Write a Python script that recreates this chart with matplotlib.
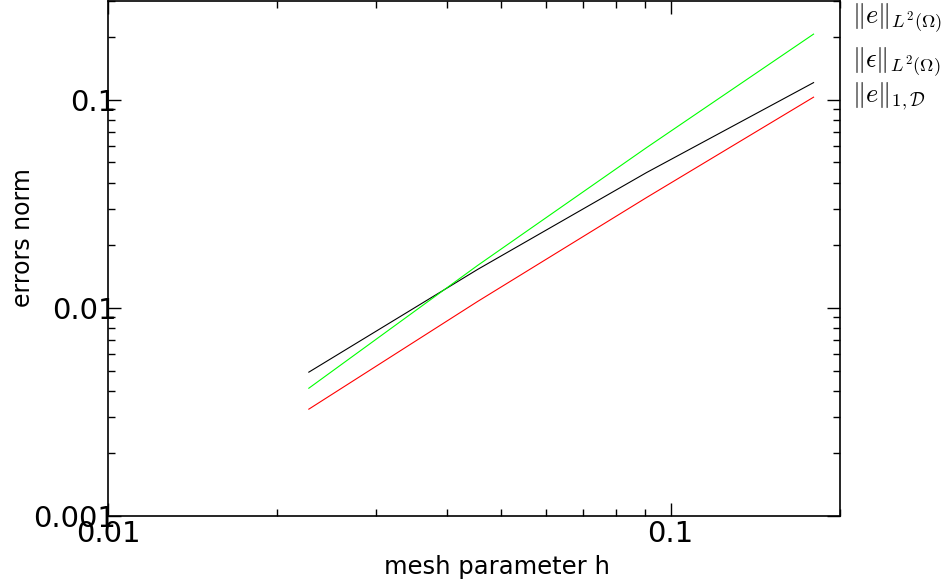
import numpy as np
import matplotlib
matplotlib.use("Agg")
import matplotlib.pyplot as plt
from matplotlib.ticker import NullFormatter

# mesh sizes and error norms
h = [0.02275, 0.0454, 0.0906, 0.1795]
err_eps = [0.00491, 0.01531, 0.0447, 0.121]    # black
err_L2 = [0.00411, 0.0160, 0.0589, 0.207]      # green
err_1D = [0.00326, 0.01074, 0.0339, 0.103]     # red

labels = [r"$\Vert e\Vert_{L^2(\Omega)}$",
          r"$\Vert \epsilon\Vert_{L^2(\Omega)}$",
          r"$\Vert e\Vert_{1,\mathcal{D}}$"]
label_y = [0.969, 0.893, 0.835]

xticks = [0.01, 0.1]
xticklabels = ["0.01", "0.1"]
yticks = [0.001, 0.01, 0.1]
yticklabels = ["0.001", "0.01", "0.1"]

plt.rcParams['mathtext.fontset'] = 'cm'
plt.rcParams['font.family'] = 'DejaVu Sans'

fig = plt.figure(figsize=(9.47, 5.81), dpi=100)
ax = fig.add_axes([0.114, 0.112, 0.773, 0.887])

ax.plot(h, err_eps, color='black', lw=0.8)
ax.plot(h, err_L2, color='#00ff00', lw=0.8)
ax.plot(h, err_1D, color='#ff0000', lw=0.8)

ax.set_xscale('log')
ax.set_yscale('log')
ax.set_xlim(0.01, 0.2)
ax.set_ylim(0.001, 0.3)

ax.set_xticks(xticks)
ax.set_xticklabels(xticklabels)
ax.set_yticks(yticks)
ax.set_yticklabels(yticklabels)
ax.xaxis.set_minor_formatter(NullFormatter())
ax.yaxis.set_minor_formatter(NullFormatter())

ax.tick_params(which='both', direction='in', top=True, right=True, width=1)
ax.tick_params(which='major', length=9.5, labelsize=21)
ax.tick_params(axis='y', which='major', pad=-6)
ax.tick_params(axis='x', which='major', pad=3)
ax.tick_params(which='minor', length=5)
for s in ax.spines.values():
    s.set_linewidth(1.2)

ax.set_xlabel("mesh parameter h", fontsize=17.5)
ax.xaxis.set_label_coords(0.531, -0.075)
ax.set_ylabel("errors norm", fontsize=17)
ax.yaxis.set_label_coords(-0.10, 0.54)

for lab, yy in zip(labels, label_y):
    fig.text(0.900, yy, lab, fontsize=19, va='center', ha='left')

fig.savefig("out.png", dpi=100)
